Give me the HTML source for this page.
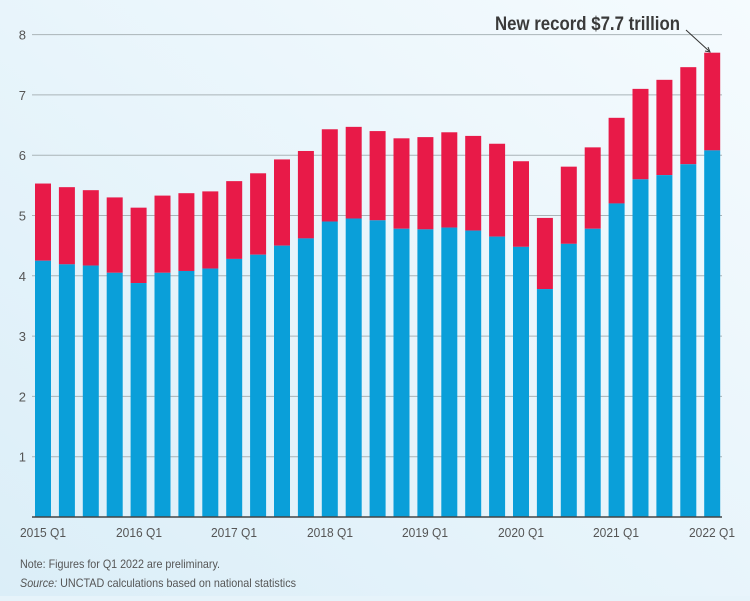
<!DOCTYPE html>
<html><head><style>
html,body{margin:0;padding:0;}
body{width:750px;height:596px;overflow:hidden;background:#e6f3fa;font-family:"Liberation Sans",sans-serif;}
</style></head><body>
<svg width="750" height="596" xmlns="http://www.w3.org/2000/svg" font-family="Liberation Sans, sans-serif">
<defs><linearGradient id="bg" x1="0" y1="1" x2="1" y2="0"><stop offset="0" stop-color="#dbeef8"/><stop offset="1" stop-color="#f5fbfe"/></linearGradient></defs>
<rect width="750" height="596" fill="url(#bg)"/>
<g id="grid" stroke="#aab4b8" stroke-width="1"></g>
<g id="bars"></g>
<line x1="32" y1="517" x2="722" y2="517" stroke="#444" stroke-width="1.5"/>
<g font-size="13" fill="#555" text-anchor="end" id="yl"></g>
<g font-size="13" fill="#555" text-anchor="middle" lengthAdjust="spacingAndGlyphs">
<text x="43" y="537" textLength="46" lengthAdjust="spacingAndGlyphs">2015 Q1</text><text x="139" y="537" textLength="46" lengthAdjust="spacingAndGlyphs">2016 Q1</text><text x="234" y="537" textLength="46" lengthAdjust="spacingAndGlyphs">2017 Q1</text>
<text x="330" y="537" textLength="46" lengthAdjust="spacingAndGlyphs">2018 Q1</text><text x="425" y="537" textLength="46" lengthAdjust="spacingAndGlyphs">2019 Q1</text><text x="521" y="537" textLength="46" lengthAdjust="spacingAndGlyphs">2020 Q1</text>
<text x="616" y="537" textLength="46" lengthAdjust="spacingAndGlyphs">2021 Q1</text><text x="712" y="537" textLength="46" lengthAdjust="spacingAndGlyphs">2022 Q1</text></g>
<text x="495" y="30" font-size="19" font-weight="bold" fill="#3a3a3a" textLength="185" lengthAdjust="spacingAndGlyphs">New record $7.7 trillion</text>
<line x1="686" y1="30" x2="709" y2="51" stroke="#333" stroke-width="1"/>
<path d="M705,51 L710,52 L708,47" fill="none" stroke="#333" stroke-width="1"/>
<text x="20" y="568" font-size="12" fill="#555" textLength="200" lengthAdjust="spacingAndGlyphs">Note: Figures for Q1 2022 are preliminary.</text>
<text x="20" y="587" font-size="12" fill="#555" textLength="276" lengthAdjust="spacingAndGlyphs"><tspan font-style="italic">Source:</tspan> UNCTAD calculations based on national statistics</text>
<script>
var T=[5.53,5.47,5.42,5.30,5.13,5.33,5.37,5.40,5.57,5.70,5.93,6.07,6.43,6.47,6.40,6.28,6.30,6.38,6.32,6.19,5.90,4.96,5.81,6.13,6.62,7.10,7.25,7.46,7.70];
var B=[4.25,4.19,4.17,4.05,3.88,4.05,4.08,4.12,4.28,4.35,4.50,4.62,4.90,4.95,4.92,4.78,4.77,4.80,4.75,4.65,4.48,3.78,4.53,4.78,5.20,5.60,5.67,5.85,6.08];
var ns="http://www.w3.org/2000/svg",u=60.3,b0=517;
function el(p,t,a){var e=document.createElementNS(ns,t);for(var k in a)e.setAttribute(k,a[k]);p.appendChild(e);return e;}
var g=document.getElementById('grid'),yl=document.getElementById('yl'),bars=document.getElementById('bars');
for(var i=1;i<=8;i++){var y=b0-i*u;el(g,'line',{x1:32,x2:722,y1:y,y2:y});var t=el(yl,'text',{x:26,y:y+5});t.textContent=i;}
for(var i=0;i<29;i++){var x=35+i*23.9;
el(bars,'rect',{x:x,y:b0-T[i]*u,width:16,height:(T[i]-B[i])*u,fill:'#e81a48'});
el(bars,'rect',{x:x,y:b0-B[i]*u,width:16,height:B[i]*u,fill:'#0a9fd9'});}
</script>
</svg>
</body></html>
